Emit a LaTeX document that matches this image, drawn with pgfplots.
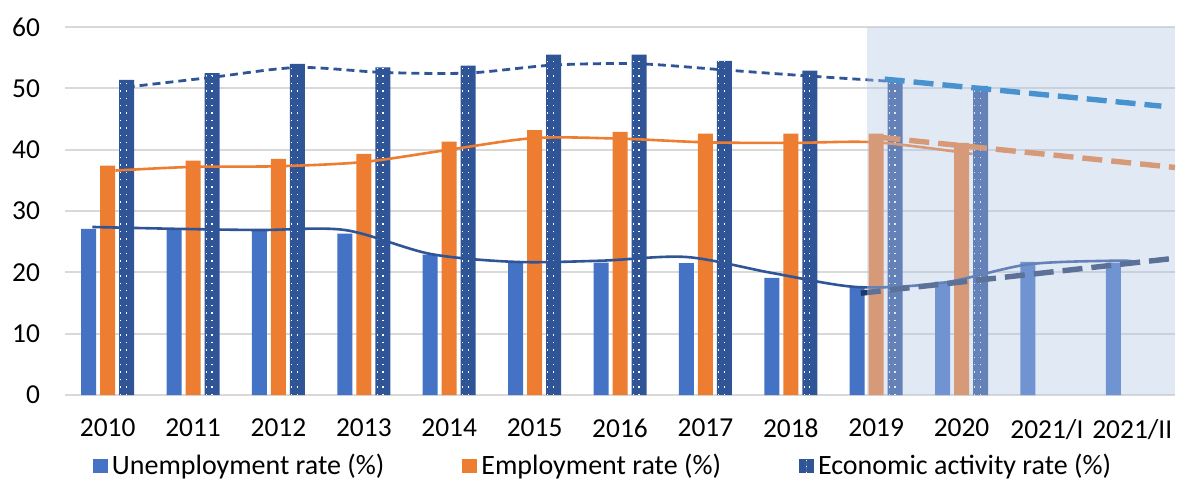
\documentclass[border=0pt]{standalone}
\usepackage{fontspec}
\setmainfont{Carlito}
\usepackage{pgfplots}
\pgfplotsset{compat=1.18}
\definecolor{cUn}{HTML}{4472C4}
\definecolor{cEm}{HTML}{ED7D31}
\definecolor{cEc}{HTML}{2F5597}
\definecolor{cGrid}{HTML}{D9D9D9}
\definecolor{cShade}{HTML}{B4C7E7}
\definecolor{cFcB}{HTML}{0070C0}
\definecolor{cFcN}{HTML}{203864}
\begin{document}
\begin{tikzpicture}
\useasboundingbox (0,0) rectangle (589pt,239.5pt);
\begin{axis}[
  at={(32.5pt,42pt)}, anchor=south west,
  width=555pt, height=184pt, scale only axis,
  xmin=-0.5, xmax=12.5, ymin=0, ymax=60,
  ytick={0,10,...,60},
  xtick={0,...,12},
  xticklabels={2010,2011,2012,2013,2014,2015,2016,2017,2018,2019,2020,2021/I,2021/II},
  axis line style={draw=none},
  major tick length=0pt,
  ymajorgrids, grid style={cGrid, line width=1pt},
  tick label style={font=\fontsize{13.7}{16}\selectfont},
  /pgf/number format/assume math mode=true,
  yticklabel style={xshift=-9pt},
  xticklabel style={yshift=-8.5pt},
  legend columns=3,
  legend style={draw=none, fill=none, at={(0.4856,-0.193)}, anchor=center,
    font=\fontsize{14}{16}\selectfont,
    /tikz/every even column/.append style={column sep=37pt}},
]
\addplot[ybar, bar width=7.5pt, bar shift=-9.5pt, fill=cUn, draw=none,
  legend image code/.code={\fill[cUn] (-3.5pt,-3.7pt) rectangle (4pt,3.5pt);}]
  coordinates {(0,27.1) (1,27.0) (2,26.8) (3,26.3) (4,22.9) (5,21.6) (6,21.6) (7,21.5) (8,19.1) (9,17.6) (10,18.5) (11,21.7) (12,21.6)};
\addlegendentry{Unemployment rate (\%)}
\addplot[ybar, bar width=7.5pt, bar shift=0pt, fill=cEm, draw=none,
  legend image code/.code={\fill[cEm] (-3.5pt,-3.7pt) rectangle (4pt,3.5pt);}]
  coordinates {(0,37.4) (1,38.2) (2,38.5) (3,39.3) (4,41.3) (5,43.2) (6,42.9) (7,42.6) (8,42.6) (9,42.6) (10,41.1)};
\addlegendentry{Employment rate (\%)}
\addplot[ybar, bar width=7.5pt, bar shift=9.5pt, fill=cEc, draw=none,
  legend image code/.code={\fill[cEc] (-3.5pt,-3.7pt) rectangle (4pt,3.5pt);
     \draw[white, line width=0.6pt, dash pattern=on 0.8pt off 2.2pt] (0.4pt,-3.7pt) -- (0.4pt,3.5pt);}]
  coordinates {(0,51.4) (1,52.5) (2,54.0) (3,53.4) (4,53.7) (5,55.5) (6,55.5) (7,54.5) (8,52.9) (9,51.7) (10,50.4)};
\addlegendentry{Economic activity rate (\%)}
% white dotted texture of the activity bars
\addplot[ycomb, white, line width=0.7pt, dash pattern=on 0.7pt off 3pt, forget plot]
  coordinates {(0.2225,51.4) (1.2225,52.5) (2.2225,54.0) (3.2225,53.4) (4.2225,53.7) (5.2225,55.5) (6.2225,55.5) (7.2225,54.5) (8.2225,52.9) (9.2225,51.7) (10.2225,50.4)};
\addplot[ycomb, white, line width=0.5pt, dash pattern=on 0.7pt off 3pt, forget plot]
  coordinates {(0.155,51.4) (1.155,52.5) (2.155,54.0) (3.155,53.4) (4.155,53.7) (5.155,55.5) (6.155,55.5) (7.155,54.5) (8.155,52.9) (9.155,51.7) (10.155,50.4)};
% thin trend lines
\addplot[cEc, line width=1.4pt, dash pattern=on 4pt off 2.5pt, smooth, forget plot]
  coordinates {(0.2225,50.2) (1.2225,51.8) (2.2225,53.4) (3.2225,52.6) (4.2225,52.5) (5.2225,53.8) (6.2225,54.0) (7.2225,53.0) (8.2225,52.0) (9.2225,51.1)};
\addplot[cEm, line width=1.3pt, smooth, forget plot]
  coordinates {(0.09,36.6) (1,37.2) (2,37.3) (3,38.0) (4,40.0) (5,41.9) (6,41.8) (7,41.2) (8,41.1) (9,41.2) (10.13,39.3)};
\addplot[cEc, line width=1.3pt, smooth, forget plot]
  coordinates {(-0.18,27.4) (0.78,27.1) (1.78,26.9) (2.78,26.9) (3.78,23.0) (4.78,21.7) (5.78,21.9) (6.78,22.5) (7.78,19.9) (8.78,17.6) (9.78,18.3) (10.78,21.3) (11.78,21.9) (12.0,21.8)};
% thick forecast lines
\addplot[cFcB, line width=2.7pt, dash pattern=on 10pt off 4.5pt, forget plot]
  coordinates {(9.1,51.5) (12.34,47.1)};
\addplot[cEm, line width=2.7pt, dash pattern=on 10pt off 4.5pt, forget plot]
  coordinates {(9.05,42.0) (12.5,37.1)};
\addplot[cFcN, line width=2.7pt, dash pattern=on 10pt off 4.5pt, forget plot]
  coordinates {(8.82,16.6) (12.5,22.3)};
% forecast shading
\fill[cShade, fill opacity=0.4] (axis cs:8.89,0) rectangle (axis cs:12.5,60);
\end{axis}
\end{tikzpicture}
\end{document}
